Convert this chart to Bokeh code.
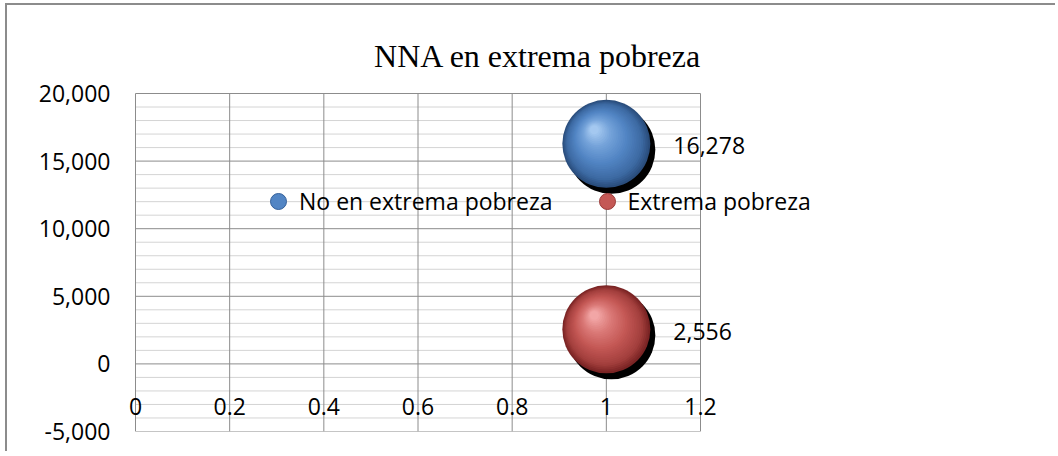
import math
from bokeh.plotting import figure
from bokeh.models import FixedTicker, Legend, LegendItem, Range1d, Label
from bokeh.core.properties import value
from bokeh.embed import file_html
from bokeh.resources import INLINE

# ---- data ----
title_text = "NNA en extrema pobreza"
series_names = ["No en extrema pobreza", "Extrema pobreza"]
x_values = [1, 1]
y_values = [16278, 2556]
x_ticks = [0, 0.2, 0.4, 0.6, 0.8, 1.0, 1.2]
x_tick_labels = ["0", "0.2", "0.4", "0.6", "0.8", "1", "1.2"]
y_ticks = [-5000, 0, 5000, 10000, 15000, 20000]
y_tick_labels = ["-5,000", "0", "5,000", "10,000", "15,000", "20,000"]
y_minor_ticks = [v for v in range(-5000, 20001, 1000) if v not in y_ticks]

# ---- layout / style ----
W, H = 1050, 448
PLOT_W, PLOT_H = 565, 338   # size of the plot area (0..1.2 x -5000..20000)
EXTRA_L = 15                # room left of the plot area (first x label)
EXTRA_R = 130               # room right of the plot area for labels / legend
EXTRA_T = 78                # room above the plot area for the title
BL, BT = 128 - EXTRA_L, 10
FW = EXTRA_L + PLOT_W + EXTRA_R
FH = PLOT_H + EXTRA_T
BR = W - BL - FW
BB = H - BT - FH
X0, X1 = x_ticks[0], x_ticks[-1]
Y0, Y1 = y_ticks[0], y_ticks[-1]
PX_X = (X1 - X0) / PLOT_W
PX_Y = (Y1 - Y0) / PLOT_H

GRID = "#8c8c8c"
MINOR = "#d4d4d4"
AX_FONT = "Open Sans"
AX_SIZE = "23px"

p = figure(width=W, height=H,
           x_range=Range1d(X0 - EXTRA_L * PX_X, X1 + EXTRA_R * PX_X),
           y_range=Range1d(Y0, Y1 + EXTRA_T * PX_Y),
           output_backend="svg", toolbar_location=None,
           min_border_left=BL, min_border_right=BR, min_border_top=BT, min_border_bottom=BB)
p.background_fill_color = "white"
p.border_fill_color = "white"
p.outline_line_color = None

# title (inside the enlarged frame so it is not clipped)
p.add_layout(Label(x=EXTRA_L + PLOT_W / 2 + 120, y=PLOT_H + 38, x_units="screen", y_units="screen",
                   text=title_text, text_font="Liberation Serif", text_font_size="32px",
                   text_color="black", text_align="center", text_baseline="alphabetic"))

# grids limited to the plot area
p.xgrid.grid_line_color = None
p.ygrid.grid_line_color = None
p.segment(x0=[X0] * len(y_minor_ticks), x1=[X1] * len(y_minor_ticks),
          y0=y_minor_ticks, y1=y_minor_ticks, line_color=MINOR, line_width=1)
p.segment(x0=x_ticks, x1=x_ticks, y0=[Y0] * len(x_ticks), y1=[Y1] * len(x_ticks),
          line_color=GRID, line_width=1)
p.segment(x0=[X0] * len(y_ticks), x1=[X1] * len(y_ticks),
          y0=y_ticks, y1=y_ticks, line_color=GRID, line_width=1)

# axes
p.xaxis.fixed_location = 0
p.xaxis.ticker = FixedTicker(ticks=x_ticks)
p.xaxis.major_label_overrides = dict(zip(x_ticks, x_tick_labels))
p.yaxis.ticker = FixedTicker(ticks=y_ticks)
p.yaxis.major_label_overrides = dict(zip(y_ticks, y_tick_labels))
for ax in (p.xaxis[0], p.yaxis[0]):
    ax.axis_line_color = None
    ax.major_tick_line_color = None
    ax.minor_tick_line_color = None
    ax.major_label_text_font = AX_FONT
    ax.major_label_text_font_size = AX_SIZE
    ax.major_label_text_color = "black"
p.xaxis.major_label_standoff = 28
p.yaxis.major_label_standoff = 19 - EXTRA_L

# ---- bubbles with a simple 3D shading ----
R = 44
colors = [
    [(0.0, (0x2a, 0x4d, 0x7c)), (0.15, (0x3d, 0x6a, 0xa3)), (0.45, (0x52, 0x85, 0xc4)),
     (0.75, (0x74, 0xa2, 0xd9)), (1.0, (0xa4, 0xc8, 0xf0))],
    [(0.0, (0x7a, 0x24, 0x24)), (0.15, (0xa3, 0x3f, 0x3d)), (0.45, (0xc4, 0x58, 0x55)),
     (0.75, (0xdb, 0x7a, 0x78)), (1.0, (0xf2, 0xa6, 0xa6))],
]


def grad(stops, t):
    for (t0, c0), (t1, c1) in zip(stops[:-1], stops[1:]):
        if t <= t1:
            f = (t - t0) / (t1 - t0) if t1 > t0 else 0
            return "#%02x%02x%02x" % tuple(int(round(a + (b - a) * f)) for a, b in zip(c0, c1))
    return "#%02x%02x%02x" % stops[-1][1]


N = 30
for i in range(len(series_names)):
    xv, yv = x_values[i], y_values[i]
    # shadow
    p.scatter([xv + 5 * PX_X], [yv - 6 * PX_Y], size=2 * R, marker="circle",
              fill_color="black", line_color=None)
    for k in range(N):
        t = k / (N - 1)
        r = R * (1 - 0.9 * t)
        cx = xv - 12 * t * PX_X
        cy = yv + 14 * t * PX_Y
        p.scatter([cx], [cy], size=2 * r, marker="circle",
                  fill_color=grad(colors[i], t), line_color=None)

# data labels
p.text(x=x_values, y=y_values, text=["{:,}".format(v) for v in y_values],
       x_offset=67, y_offset=2, text_align="left", text_baseline="middle",
       text_font=value(AX_FONT), text_font_size=AX_SIZE, text_color="black")

# legend (proxy renderers, not drawn in the plot)
leg_fill = ["#5285c4", "#c45855"]
leg_line = ["#34609a", "#9a3a38"]
items = []
for i, name in enumerate(series_names):
    r = p.scatter([math.nan], [math.nan], size=16, marker="circle",
                  fill_color=leg_fill[i], line_color=leg_line[i])
    items.append(LegendItem(label=name, renderers=[r]))
leg = Legend(items=items, orientation="horizontal", location=(123 + EXTRA_L, 210),
             padding=0, margin=0, spacing=34, glyph_width=40, glyph_height=40,
             label_standoff=1, background_fill_alpha=0, border_line_alpha=0,
             label_text_font=AX_FONT, label_text_font_size=AX_SIZE, label_text_color="black")
p.add_layout(leg)

p.styles = {"margin-left": "5px", "margin-top": "3px",
            "border-left": "2px solid #8c8c8c", "border-top": "2px solid #8c8c8c"}

open("out.html", "w").write(file_html(p, INLINE))
